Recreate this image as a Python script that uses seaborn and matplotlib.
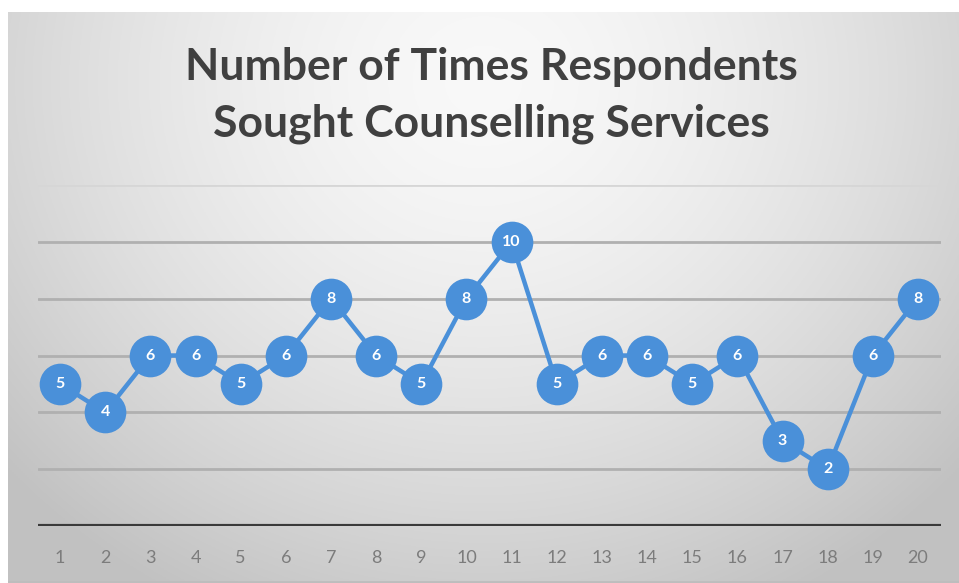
import numpy as np
import pandas as pd
import matplotlib
matplotlib.use("Agg")
import matplotlib.pyplot as plt
import seaborn as sns

respondents = list(range(1, 21))
times_sought = [5, 4, 6, 6, 5, 6, 8, 6, 5, 8, 10, 5, 6, 6, 5, 6, 3, 2, 6, 8]
title_lines = ["Number of Times Respondents", "Sought Counselling Services"]

sns.set_theme(style="white")
plt.rcParams["font.family"] = ["Lato", "DejaVu Sans"]

W, H, DPI = 959, 583, 100
fig = plt.figure(figsize=(W / DPI, H / DPI), dpi=DPI)
fig.patch.set_facecolor("white")

# radial grey gradient panel behind the chart
bg = fig.add_axes([8 / W, 0, 1 - 8 / W, (H - 12) / H], zorder=0)
ny, nx = 300, 500
yy, xx = np.mgrid[0:1:ny * 1j, 0:1:nx * 1j]
r = np.sqrt(((xx - 0.5) / 0.62) ** 2 + ((yy - 0.12) / 0.95) ** 2)
shade = 0.975 - 0.19 * np.clip(r, 0, 1.3) ** 1.6
shade = np.clip(shade, 0.76, 0.98)
bg.imshow(np.dstack([shade] * 3), aspect="auto", extent=[0, 1, 1, 0])
bg.axhline(0.999, color="#bdbdbd", lw=2)
bg.set_axis_off()

ax = fig.add_axes([37.5 / W, (H - 526) / H, (940.6 - 37.5) / W, (526 - 185) / H], zorder=1)
ax.patch.set_alpha(0)

df = pd.DataFrame({"respondent": respondents, "times": times_sought})
blue = "#4A90D9"
sns.lineplot(data=df, x="respondent", y="times", ax=ax, color=blue, linewidth=3.2,
             marker="o", markersize=30, markeredgewidth=0, zorder=3)

for x, y in zip(respondents, times_sought):
    ax.text(x, y, str(y), ha="center", va="center", color="white",
            fontsize=11.5, fontweight="bold", zorder=4)

ax.set_xlim(0.5, 20.5)
ax.set_ylim(0, 12)
for gy in range(2, 11, 2):
    ax.axhline(gy, color="#b0b0b0", lw=2, zorder=1)
ax.axhline(12, color="#d6d6d6", lw=2, zorder=1)
ax.axhline(0, color="#3a3a3a", lw=3, zorder=2)

ax.set_xticks(respondents)
ax.set_xticklabels([str(v) for v in respondents])
ax.tick_params(axis="x", length=0, pad=17, labelsize=13, labelcolor="#7c7c7c")
ax.set_yticks([])
ax.set_xlabel("")
ax.set_ylabel("")
for s in ax.spines.values():
    s.set_visible(False)

fig.text(491 / W, (H - 80) / H, title_lines[0], ha="center", va="baseline",
         fontsize=32, fontweight="bold", color="#404040")
fig.text(491 / W, (H - 137) / H, title_lines[1], ha="center", va="baseline",
         fontsize=32, fontweight="bold", color="#404040")

fig.savefig("out.png", dpi=DPI)
